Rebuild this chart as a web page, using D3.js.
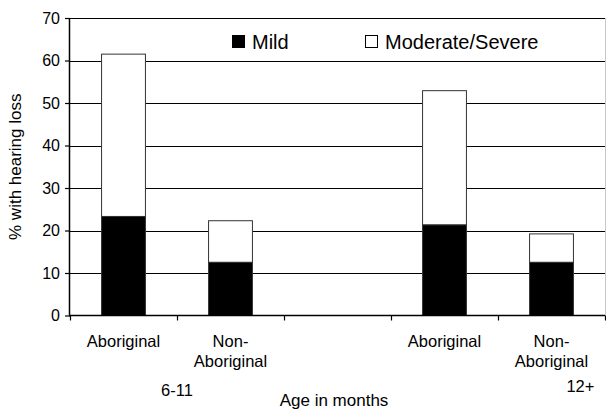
<!DOCTYPE html>
<html><head><meta charset="utf-8">
<script src="https://cdn.jsdelivr.net/npm/d3@7"></script>
<style>body{margin:0;background:#fff}svg{display:block;font-family:"Liberation Sans",Arial,sans-serif}</style>
</head><body><svg id="c" width="606" height="410"></svg>
<script>
const categories = ["Aboriginal|6-11", "Non-|Aboriginal|6-11b", "gap", "Aboriginal|12+", "Non-|Aboriginal|12+b"];
const catLabels = [["Aboriginal"], ["Non-", "Aboriginal"], [], ["Aboriginal"], ["Non-", "Aboriginal"]];
const mild = [23.3, 12.5, null, 21.3, 12.5];
const moderateSevere = [38.2, 9.8, null, 31.6, 6.7];
const seriesNames = ["Mild", "Moderate/Severe"];
const groupLabels = ["6-11", "12+"];
const yTicks = [0, 10, 20, 30, 40, 50, 60, 70];

const svg = d3.select("#c");
const L = 70, R = 605, T = 18, B = 315.5;
const x = d3.scaleBand().domain(categories).range([L, R]).padding(0);
const y = d3.scaleLinear().domain([0, 70]).range([B, T]);
const bw = x.step() * 0.41;

// right border
svg.append("line").attr("x1", R + 0.5).attr("x2", R + 0.5).attr("y1", T).attr("y2", B).attr("stroke", "#c8c8c8");

// gridlines
svg.append("g").selectAll("line").data(yTicks.filter(d => d > 0)).join("line")
  .attr("x1", L).attr("x2", R).attr("y1", d => Math.round(y(d)) + 0.5).attr("y2", d => Math.round(y(d)) + 0.5)
  .attr("stroke", "#000").attr("stroke-width", 1);

// bars
const stack = categories.map((c, i) => ({c, m: mild[i], s: moderateSevere[i]})).filter(d => d.m != null);
const bars = svg.append("g");
bars.selectAll(".mod").data(stack).join("rect")
  .attr("x", d => x(d.c) + (x.step() - bw) / 2).attr("width", bw)
  .attr("y", d => y(d.m + d.s)).attr("height", d => y(d.m) - y(d.m + d.s))
  .attr("fill", "#fff").attr("stroke", "#333").attr("stroke-width", 1);
bars.selectAll(".mild").data(stack).join("rect")
  .attr("x", d => x(d.c) + (x.step() - bw) / 2).attr("width", bw)
  .attr("y", d => y(d.m)).attr("height", d => y(0) - y(d.m))
  .attr("fill", "#000").attr("stroke", "#333").attr("stroke-width", 1);

// y axis
const ya = svg.append("g").attr("transform", `translate(${L},0)`)
  .call(d3.axisLeft(y).tickValues(yTicks).tickSize(5).tickPadding(5).tickFormat(d3.format("d")));
ya.select(".domain").attr("stroke", "#000").attr("stroke-width", 1.5).attr("d", `M-0.5,${T}V${B}`);
ya.selectAll(".tick line").attr("stroke", "#000").attr("stroke-width", 1.2);
ya.selectAll(".tick text").attr("font-size", 16).attr("fill", "#000").attr("font-family", "Liberation Sans, Arial, sans-serif");

// x axis
const xa = svg.append("g").attr("transform", `translate(0,${B})`);
xa.append("line").attr("x1", L - 1).attr("x2", R).attr("y1", 0).attr("y2", 0).attr("stroke", "#000").attr("stroke-width", 1.5);
const bounds = categories.map(c => x(c)).concat([R]);
xa.selectAll(".t").data(bounds).join("line")
  .attr("x1", d => Math.round(d) + 0.5).attr("x2", d => Math.round(d) + 0.5).attr("y1", 0).attr("y2", 5)
  .attr("stroke", "#000").attr("stroke-width", 1.2);
categories.forEach((c, i) => {
  catLabels[i].forEach((t, j) => {
    svg.append("text").attr("x", x(c) + x.step() / 2).attr("y", 347 + j * 20)
      .attr("text-anchor", "middle").attr("font-size", 16.5).text(t);
  });
});
// group labels
svg.append("text").attr("x", x(categories[1])).attr("y", 396).attr("text-anchor", "middle").attr("font-size", 16.5).text(groupLabels[0]);
svg.append("text").attr("x", x(categories[4]) + x.step() * 0.77).attr("y", 392).attr("text-anchor", "middle").attr("font-size", 16.5).text(groupLabels[1]);
// x title
svg.append("text").attr("x", 334).attr("y", 406).attr("text-anchor", "middle").attr("font-size", 17).text("Age in months");
// y title
svg.append("text").attr("transform", `translate(21,${(T + B) / 2}) rotate(-90)`).attr("text-anchor", "middle").attr("font-size", 17).text("% with hearing loss");

// legend
const lg = svg.append("g");
const legendX = [232, 365];
seriesNames.forEach((n, i) => {
  lg.append("rect").attr("x", legendX[i] + 0.5).attr("y", 35.5).attr("width", 12).attr("height", 12)
    .attr("fill", i === 0 ? "#000" : "#fff").attr("stroke", "#000").attr("stroke-width", 1);
  lg.append("text").attr("x", legendX[i] + 20).attr("y", 48.5).attr("font-size", 20).text(n);
});
</script></body></html>
